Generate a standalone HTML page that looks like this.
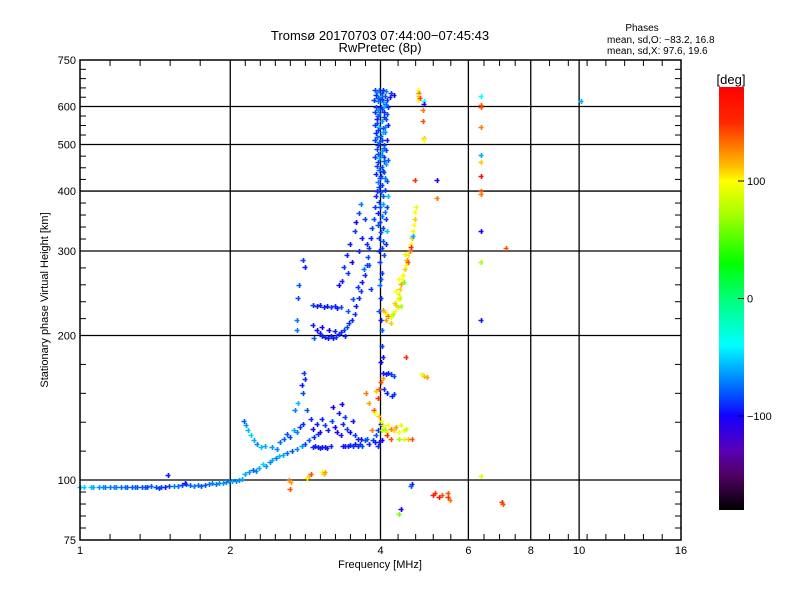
<!DOCTYPE html>
<html><head><meta charset="utf-8">
<style>
html,body{margin:0;padding:0;background:#fff;}
svg{display:block;font-family:"Liberation Sans","DejaVu Sans",sans-serif;}
</style></head>
<body>
<svg id="chart" width="800" height="600" viewBox="0 0 800 600" xmlns="http://www.w3.org/2000/svg">
<defs>
<linearGradient id="cbGrad" x1="0" y1="0" x2="0" y2="1">
<stop offset="0" stop-color="rgb(255,0,0)"/>
<stop offset="0.083" stop-color="rgb(255,40,0)"/>
<stop offset="0.139" stop-color="rgb(255,120,0)"/>
<stop offset="0.194" stop-color="rgb(255,200,0)"/>
<stop offset="0.222" stop-color="rgb(255,255,0)"/>
<stop offset="0.306" stop-color="rgb(160,255,0)"/>
<stop offset="0.417" stop-color="rgb(0,255,0)"/>
<stop offset="0.5" stop-color="rgb(0,255,120)"/>
<stop offset="0.611" stop-color="rgb(0,255,255)"/>
<stop offset="0.667" stop-color="rgb(0,170,255)"/>
<stop offset="0.722" stop-color="rgb(0,90,255)"/>
<stop offset="0.778" stop-color="rgb(20,0,255)"/>
<stop offset="0.861" stop-color="rgb(90,0,180)"/>
<stop offset="0.917" stop-color="rgb(80,0,100)"/>
<stop offset="1" stop-color="rgb(0,0,0)"/>
</linearGradient>
</defs>
<text x="380" y="40" font-size="13" text-anchor="middle">Tromsø 20170703 07:44:00−07:45:43</text>
<text x="380" y="52" font-size="13" text-anchor="middle">RwPretec (8p)</text>
<text x="642" y="31" font-size="10" text-anchor="middle">Phases</text>
<text x="607" y="43" font-size="10">mean, sd,O: −83.2, 16.8</text>
<text x="607" y="54" font-size="10">mean, sd,X:  97.6, 19.6</text>
<g id="grid"></g>
<g id="marks"></g>
<rect x="80" y="60" width="601" height="480" fill="none" stroke="#000" stroke-width="1.5"/>
<g id="axes"></g>
<text x="380" y="568" font-size="11" text-anchor="middle">Frequency [MHz]</text>
<text transform="translate(48,300) rotate(-90)" font-size="11" text-anchor="middle">Stationary phase Virtual Height [km]</text>
<rect x="719" y="87" width="25" height="423" fill="url(#cbGrad)"/>
<text x="731" y="84" font-size="13" text-anchor="middle">[deg]</text>
<g id="cbticks"></g>
</svg>
<script>
const xTickValues = [1, 2, 4, 6, 8, 10, 16];
const xTickLabels = ["1", "2", "4", "6", "8", "10", "16"];
const xGridValues = [2, 4, 6, 8, 10];
const yTickValues = [75, 100, 200, 300, 400, 500, 600, 750];
const yTickLabels = ["75", "100", "200", "300", "400", "500", "600", "750"];
const yGridValues = [100, 200, 300, 400, 500, 600];
const cbTickValues = [100, 0, -100];
const cbTickLabels = ["100", "0", "−100"];

// [frequency MHz, height km, phase deg]
const eTrace = [[1.00,96.8,-55],[1.02,96.6,-52],[1.05,96.5,-50],[1.06,96.6,-60],[1.09,96.7,-65],[1.11,96.5,-62],[1.12,96.8,-70],[1.15,96.6,-72],[1.17,96.9,-68],[1.18,96.7,-70],[1.21,96.8,-75],[1.23,96.5,-72],[1.24,96.6,-78],[1.27,96.7,-80],[1.29,96.9,-76],[1.30,96.5,-78],[1.33,96.7,-82],[1.35,96.5,-80],[1.36,96.9,-85],[1.39,97.0,-80],[1.42,96.8,-82],[1.44,96.4,-88],[1.45,96.6,-85],[1.48,96.9,-92],[1.51,97.3,-88],[1.54,97.1,-70],[1.57,97.0,-75],[1.60,97.5,-85],[1.63,98.0,-80],[1.66,97.8,-78],[1.69,97.3,-72],[1.72,97.5,-75],[1.75,97.4,-80],[1.78,97.6,-82],[1.81,98.0,-75],[1.84,98.6,-70],[1.87,98.3,-72],[1.90,98.5,-68],[1.93,98.8,-65],[1.96,99.0,-70],[1.99,99.3,-72],[2.02,99.6,-60],[2.05,99.5,-65],[2.08,100.0,-70],[2.11,100.6,-62],[1.50,102.5,-95],[1.62,98.8,-95]];
const eRise = [[2.14,103,-60],[2.18,104,-65],[2.22,105,-80],[2.25,104.5,-70],[2.28,106,-60],[2.33,108,-50],[2.36,107,-65],[2.40,109,-70],[2.43,110,-60],[2.47,111,-70],[2.50,112,-55],[2.55,113,-60],[2.60,114,-75],[2.66,115,-80],[2.72,116,-70],[2.78,118,-65],[2.83,119,-85],[2.88,121,-80],[2.95,123,-90],[3.0,125,-88],[2.13,133,-80],[2.15,130,-65],[2.17,127,-55],[2.20,124,-50],[2.23,121,-60],[2.26,119,-70],[2.30,117,-55],[2.35,118,-60],[2.42,117,-65],[2.48,116,-70],[2.52,120,-75],[2.56,122,-80],[2.60,125,-82],[2.64,123,-85],[2.68,127,-60],[2.72,126,-70],[2.76,129,-88],[2.80,131,-92],[2.80,152,-85],[2.79,158,-95],[2.82,162,-90],[2.81,167,-88],[2.70,140,-70],[2.74,145,-55],[2.85,140,-80],[2.90,134,-92]];
const esLayer = [[2.93,117,-92],[2.96,117.5,-95],[3.00,117,-94],[3.03,116.5,-92],[3.06,117,-95],[3.10,117,-97],[3.13,116.5,-94],[3.18,117.5,-92],[3.36,118,-95],[3.40,118,-97],[3.44,117.5,-94],[3.48,118.5,-92],[3.52,118,-88],[3.56,119,-95],[3.60,118,-92],[3.64,119,-88],[3.68,118,-84],[2.93,128,-100],[2.98,131,-95],[3.03,126,-105],[3.05,134,-92],[3.10,130,-88],[3.14,127,-95],[3.20,133,-84],[3.25,129,-100],[3.28,126,-105],[3.33,124,-95],[3.36,131,-92],[3.42,128,-88],[3.48,126,-100],[3.52,133,-95],[3.56,124,-88],[3.60,122,-92],[3.66,122,-95],[3.72,121,-84],[3.76,122,-80],[3.80,119,-92],[3.86,121,-88],[3.90,120,-95],[3.95,118,-92],[3.98,120,-95],[3.30,138,-95],[3.22,142,-105],[3.40,135,-88],[3.35,144,-100],[4.05,167,-95],[4.10,166,-92],[4.15,167,-95],[4.20,166,-88],[4.25,165,-84],[4.07,155,-88],[4.12,152,-95],[4.22,150,-92],[4.26,151,-88],[4.00,176,-105],[3.92,124,-80],[3.95,127,-88],[4.02,121,-100],[4.00,131,-95]];
const esXMode = [[3.74,152,130],[3.80,145,120],[3.88,140,140],[3.92,153,110],[3.90,138,100],[3.85,127,130],[3.95,148,150],[3.98,155,140],[3.97,136,110],[4.0,133,100],[4.02,127,80],[4.05,130,90],[4.08,128,70],[4.12,126,90],[4.15,130,100],[4.20,128,130],[4.25,127,110],[4.30,129,120],[4.35,126,100],[4.40,130,90],[4.45,127,100],[4.50,128,80],[4.35,122,70],[4.45,122,90],[4.55,122,110],[4.62,122,140],[4.20,122,140],[4.12,124,150],[4.05,163,120],[4.00,160,140],[4.85,166,90],[4.90,165,110],[4.95,164,120],[4.50,180,150],[2.62,100,130],[2.65,99,120],[2.64,96,140],[2.85,101,100],[2.88,102,110],[2.90,103,140],[3.05,104,100],[3.08,103,110],[3.10,104,120]];
const scattered = [[4.63,98,-95],[4.6,97,-80],[4.4,87,-100],[4.35,85,60],[5.10,93,160],[5.15,94,150],[5.25,92,170],[5.30,93,140],[5.45,92,150],[5.50,91,130],[5.47,94,140],[7.0,90,150],[7.05,89,140],[6.35,630,-40],[6.35,605,140],[6.35,600,140],[6.35,545,130],[6.35,475,-60],[6.35,460,110],[6.35,430,170],[6.35,400,140],[6.35,395,130],[6.35,330,-100],[6.35,285,70],[6.35,215,-95],[6.35,102,90],[10.1,615,-60],[7.15,305,140],[4.90,617,-40],[4.90,607,-110],[4.86,589,130],[4.86,560,140],[4.90,516,110],[4.90,512,100],[4.70,422,150],[5.20,422,-110],[5.20,387,130]];
const fXMode = [[4.05,226,120],[4.08,224,110],[4.12,222,100],[4.15,220,130],[4.20,219,90],[4.24,222,70],[4.28,225,100],[4.30,232,110],[4.33,238,100],[4.35,244,90],[4.38,250,110],[4.40,256,120],[4.42,262,100],[4.44,268,95],[4.47,275,110],[4.50,281,100],[4.52,288,120],[4.55,294,105],[4.58,300,130],[4.60,310,100],[4.62,320,110],[4.64,330,95],[4.66,340,100],[4.68,350,110],[4.70,362,100],[4.72,370,95],[4.45,258,60],[4.38,240,80],[4.30,248,100],[4.27,234,110],[4.33,229,80],[4.60,306,150],[4.64,322,-60],[4.55,285,140],[4.40,230,70],[4.20,212,110],[4.10,215,120],[4.36,262,100],[4.48,296,90],[4.75,650,100],[4.77,640,130],[4.78,630,110],[4.76,620,100],[4.80,625,140]];
const fOMode = [[2.93,210,-95],[2.98,205,-100],[3.02,202,-95],[3.06,200,-92],[3.10,199,-94],[3.14,198,-97],[3.18,200,-92],[3.22,198,-95],[3.26,199,-88],[3.30,201,-94],[3.34,203,-92],[3.38,205,-88],[3.42,208,-85],[3.46,212,-92],[3.05,208,-105],[3.15,205,-100],[3.25,204,-95],[3.40,200,-92],[2.95,198,-80],[2.93,232,-88],[2.98,230,-95],[3.03,231,-94],[3.08,229,-92],[3.13,230,-97],[3.18,229,-88],[3.24,230,-92],[3.28,228,-95],[3.33,229,-84],[2.80,287,-88],[2.82,278,-95],[2.75,255,-80],[2.73,240,-84],[2.72,215,-72],[2.72,205,-72],[3.50,215,-92],[3.55,222,-88],[3.58,230,-94],[3.62,240,-92],[3.65,248,-88],[3.68,258,-95],[3.72,268,-92],[3.75,280,-88],[3.78,292,-84],[3.80,305,-88],[3.83,320,-92],[3.85,335,-88],[3.88,350,-84],[3.90,370,-88],[3.92,390,-92],[3.45,225,-80],[3.52,238,-84],[3.60,252,-88],[3.70,275,-75],[3.35,260,-95],[3.38,278,-88],[3.42,295,-92],[3.48,310,-95],[3.55,330,-88],[3.58,345,-100],[3.62,360,-84],[3.65,375,-72],[3.45,270,-88],[3.50,285,-105],[3.30,255,-100],[3.62,300,-92],[3.68,320,-95],[3.72,350,-88],[3.75,310,-92],[3.80,280,-84],[3.82,250,-88]];
const fColumn = [[3.90,650,-88],[3.97,648,-80],[4.05,650,-95],[4.10,645,-72],[3.92,635,-92],[4.00,632,-55],[4.08,630,-84],[4.18,628,-95],[3.88,618,-88],[3.96,615,-75],[4.04,612,-62],[4.12,618,-88],[3.92,600,-84],[4.00,598,-95],[4.07,602,-55],[4.15,600,-88],[3.90,585,-88],[3.98,580,-72],[4.06,585,-92],[4.13,578,-84],[3.93,565,-95],[4.02,560,-62],[4.10,565,-84],[3.90,548,-88],[3.97,545,-55],[4.05,540,-88],[4.14,550,-95],[3.92,528,-92],[4.00,522,-80],[4.08,530,-68],[3.90,510,-88],[3.98,505,-72],[4.06,500,-88],[4.12,512,-95],[3.93,490,-84],[4.02,485,-62],[4.10,488,-88],[3.90,470,-88],[3.98,468,-55],[4.06,472,-92],[4.14,465,-80],[3.94,452,-88],[4.02,448,-84],[4.10,455,-62],[3.92,435,-95],[4.00,430,-88],[4.07,438,-80],[3.95,418,-72],[4.03,412,-88],[4.12,420,-84],[3.93,400,-92],[4.00,398,-80],[4.08,402,-88],[4.15,390,-55],[3.97,380,-88],[4.05,375,-62],[4.12,370,-84],[3.95,360,-95],[4.02,355,-72],[4.10,350,-88],[3.96,340,-84],[4.05,335,-88],[4.12,330,-55],[3.97,320,-88],[4.04,315,-80],[4.10,310,-92],[3.98,300,-95],[4.06,295,-84],[3.99,285,-88],[4.02,270,-88],[3.99,255,-75],[4.01,240,-88],[3.98,225,-84],[4.00,215,-95],[4.03,205,-80],[4.02,190,-88],[4.04,180,-95],[4.20,640,-88],[4.25,635,-105],[3.94,642,-70],[4.02,640,-85],[3.95,625,-80],[4.03,622,-90],[4.10,608,-75],[3.95,590,-70],[4.03,592,-85],[3.95,572,-80],[4.06,570,-88],[3.94,555,-85],[4.09,545,-70],[3.96,535,-88],[4.04,530,-60],[3.94,518,-75],[4.02,512,-85],[3.96,498,-90],[4.06,492,-78],[3.95,478,-85],[4.03,475,-70],[3.96,460,-88],[4.06,462,-80],[3.97,442,-75],[4.04,440,-88],[3.99,425,-85],[4.08,426,-72],[3.97,408,-88],[4.05,390,-80],[3.99,370,-85],[4.08,362,-75],[3.99,345,-88],[4.01,328,-80],[4.02,305,-88],[4.00,262,-80]];

const NS = "http://www.w3.org/2000/svg";
const PX0 = 80, PX1 = 681, PY0 = 60, PY1 = 540;
function xScale(f){ return PX0 + (PX1-PX0) * Math.log2(f) / 4; }
function yScale(h){ return PY1 - (PY1-PY0) * Math.log10(h/75); }
function cbScale(p){ return 87 + 423 * (180 - p) / 360; }
const cmap = [[180,255,0,0],[150,255,40,0],[130,255,120,0],[110,255,200,0],[100,255,255,0],[70,160,255,0],[30,0,255,0],[0,0,255,120],[-40,0,255,255],[-60,0,170,255],[-80,0,90,255],[-100,20,0,255],[-130,90,0,180],[-150,80,0,100],[-180,0,0,0]];
function color(p){
  for(let i=0;i<cmap.length-1;i++){
    const a=cmap[i], b=cmap[i+1];
    if(p<=a[0] && p>=b[0]){
      const t=(a[0]-p)/(a[0]-b[0]);
      return `rgb(${Math.round(a[1]+(b[1]-a[1])*t)},${Math.round(a[2]+(b[2]-a[2])*t)},${Math.round(a[3]+(b[3]-a[3])*t)})`;
    }
  }
  return "#000";
}
function mk(tag, attrs, parent){
  const e=document.createElementNS(NS,tag);
  for(const k in attrs) e.setAttribute(k, attrs[k]);
  parent.appendChild(e); return e;
}
const grid=document.getElementById('grid');
const axes=document.getElementById('axes');
const marks=document.getElementById('marks');
const cbt=document.getElementById('cbticks');

xGridValues.forEach(v=>{
  const l=mk('line',{x1:xScale(v),x2:xScale(v),y1:PY0,y2:PY1,stroke:'#000','stroke-width':1.3},grid);
  
  
});
yGridValues.forEach(v=>{
  const l=mk('line',{x1:PX0,x2:PX1,y1:yScale(v),y2:yScale(v),stroke:'#000','stroke-width':1.3},grid);
  
  
});
xTickValues.forEach((v,i)=>{
  const t=mk('text',{x:xScale(v),y:554,'font-size':11,'text-anchor':'middle'},axes);
  t.textContent=xTickLabels[i];
  
  
});
yTickValues.forEach((v,i)=>{
  const t=mk('text',{x:76,y:yScale(v)+4,'font-size':11,'text-anchor':'end'},axes);
  t.textContent=yTickLabels[i];
  
  
});
const xSegs=[[1,2,5],[2,4,10],[4,6,5],[6,8,4],[8,16,8]];
xSegs.forEach(s=>{
  for(let k=1;k<s[2];k++){
    const x=xScale(s[0])+(xScale(s[1])-xScale(s[0]))*k/s[2];
    mk('line',{x1:x,x2:x,y1:PY1,y2:PY1-6,stroke:'#000'},axes);
    mk('line',{x1:x,x2:x,y1:PY0,y2:PY0+6,stroke:'#000'},axes);
  }
});
const ySegs=[[75,100,5],[100,200,5],[200,300,5],[300,400,5],[400,500,4],[500,600,4],[600,750,5]];
ySegs.forEach(s=>{
  for(let k=1;k<s[2];k++){
    const y=yScale(s[0])+(yScale(s[1])-yScale(s[0]))*k/s[2];
    mk('line',{x1:PX0,x2:PX0+6,y1:y,y2:y,stroke:'#000'},axes);
    mk('line',{x1:PX1,x2:PX1-6,y1:y,y2:y,stroke:'#000'},axes);
  }
});
cbTickValues.forEach((v,i)=>{
  mk('line',{x1:744,x2:738,y1:cbScale(v),y2:cbScale(v),stroke:'#000'},cbt);
  const t=mk('text',{x:747,y:cbScale(v)+4,'font-size':11},cbt);
  t.textContent=cbTickLabels[i];
  
  
});
const allSeries=[['e-trace',eTrace],['e-rise',eRise],['es-layer',esLayer],['es-x-mode',esXMode],['scattered',scattered],['f-x-mode',fXMode],['f-o-mode',fOMode],['f-column',fColumn]];
allSeries.forEach(([name,arr])=>{
  const g=mk('g',{},marks);
  
  
  arr.forEach(d=>{
    const x=Math.round(xScale(d[0])), y=Math.round(yScale(d[1])), c=color(d[2]);
    const p=mk('path',{d:`M${x-2.5} ${y+0.5}h5M${x+0.5} ${y-2}v5`,stroke:c,'stroke-width':1.6,fill:'none'},g);
    
    
  });
});
</script>
</body></html>
